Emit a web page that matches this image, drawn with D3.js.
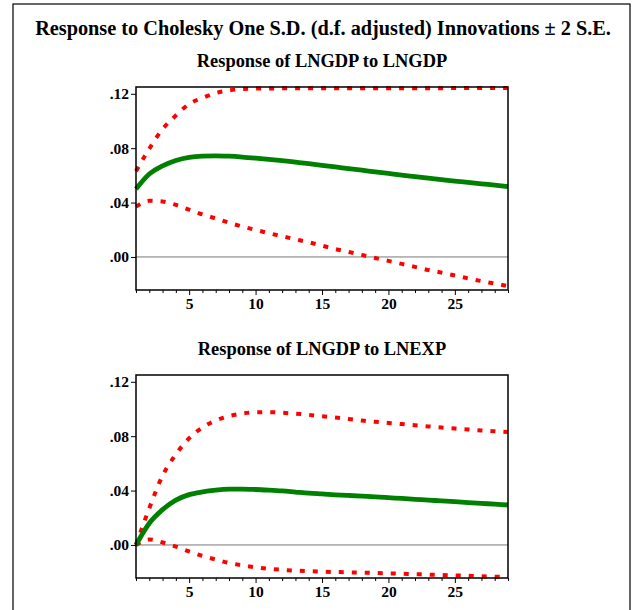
<!DOCTYPE html>
<html>
<head>
<meta charset="utf-8">
<script src="https://cdn.jsdelivr.net/npm/d3@7"></script>
<style>
  body { margin: 0; background: #fff; }
</style>
</head>
<body>
<div id="chart"></div>
<script>
const width = 632;
const height = 610;
const serif = "'Liberation Serif', 'Times New Roman', serif";

const periods = d3.range(1, 30);
const yTicks = [0, 0.04, 0.08, 0.12];
const xTicks = [5, 10, 15, 20, 25];

// Response of LNGDP to LNGDP
const gdpResp = [0.050, 0.061, 0.067, 0.0710, 0.0733, 0.0742, 0.0744, 0.0741, 0.0735, 0.0727,
  0.0718, 0.0708, 0.0697, 0.0686, 0.0674, 0.0662, 0.0650, 0.0638, 0.0626, 0.0614,
  0.0602, 0.0591, 0.0580, 0.0569, 0.0558, 0.0548, 0.0538, 0.0528, 0.0518];
const gdpUpper = [0.063, 0.0796, 0.094, 0.104, 0.1125, 0.117, 0.1205, 0.1225, 0.1235, 0.1238,
  0.1239, 0.1240, 0.1240, 0.1240, 0.1240, 0.1240, 0.1240, 0.1240, 0.1241, 0.1241,
  0.1241, 0.1241, 0.1241, 0.1241, 0.1242, 0.1242, 0.1242, 0.1242, 0.1242];
const gdpLower = [0.037, 0.0413, 0.0408, 0.0383, 0.0348, 0.0313, 0.0283, 0.0252, 0.0224, 0.0199,
  0.0175, 0.0152, 0.0130, 0.0108, 0.0083, 0.0058, 0.0037, 0.0015, -0.0008, -0.0029,
  -0.0051, -0.0073, -0.0096, -0.0115, -0.0136, -0.0158, -0.0177, -0.0196, -0.0215];

// Response of LNGDP to LNEXP
const expResp = [0.0, 0.016, 0.026, 0.033, 0.037, 0.039, 0.0403, 0.041, 0.0411, 0.0408,
  0.0403, 0.0397, 0.0389, 0.0381, 0.0375, 0.0369, 0.0364, 0.0359, 0.0354, 0.0348,
  0.0342, 0.0336, 0.0330, 0.0324, 0.0318, 0.0312, 0.0306, 0.0300, 0.0294];
const expUpper = [0.0, 0.027, 0.051, 0.0667, 0.0785, 0.0864, 0.0915, 0.0948, 0.0967, 0.0976,
  0.0977, 0.0972, 0.0966, 0.0957, 0.0947, 0.0938, 0.0927, 0.0915, 0.0906, 0.0897,
  0.0889, 0.0880, 0.0872, 0.0864, 0.0856, 0.0849, 0.0842, 0.0836, 0.0830];
const expLower = [0.0, 0.004, 0.0018, -0.0012, -0.0048, -0.008, -0.0107, -0.0132, -0.015, -0.0164,
  -0.0175, -0.0183, -0.0189, -0.0193, -0.0196, -0.0199, -0.0201, -0.0204, -0.0206, -0.0209,
  -0.0212, -0.0215, -0.0218, -0.0221, -0.0224, -0.0227, -0.0230, -0.0233, -0.0237];

const panels = [
  { title: "Response of LNGDP to LNGDP", resp: gdpResp, upper: gdpUpper, lower: gdpLower, top: 87 },
  { title: "Response of LNGDP to LNEXP", resp: expResp, upper: expUpper, lower: expLower, top: 375 }
];

const svg = d3.select("#chart")
  .append("svg")
  .attr("width", width)
  .attr("height", height);

// outer frame
svg.append("rect")
  .attr("x", 13).attr("y", 4)
  .attr("width", 617).attr("height", 640)
  .attr("fill", "none")
  .attr("stroke", "#000")
  .attr("stroke-width", 1.2);

svg.append("text")
  .attr("x", 323).attr("y", 35)
  .attr("text-anchor", "middle")
  .attr("font-family", serif)
  .attr("font-weight", "bold")
  .style("font-size", "20.3px")
  .text("Response to Cholesky One S.D. (d.f. adjusted) Innovations \u00b1 2 S.E.");

const plotLeft = 136, plotRight = 508, plotH = 203;

const x = d3.scaleLinear().domain([1, 29]).range([plotLeft, plotRight]);

panels.forEach(p => {
  const y = d3.scaleLinear().domain([-0.0243, 0.125]).range([p.top + plotH, p.top]);
  const g = svg.append("g");

  g.append("text")
    .attr("x", 322).attr("y", p.top - 20)
    .attr("text-anchor", "middle")
    .attr("font-family", serif)
    .attr("font-weight", "bold")
    .style("font-size", "18.4px")
    .text(p.title);

  // zero line
  g.append("line")
    .attr("x1", plotLeft).attr("x2", plotRight)
    .attr("y1", y(0)).attr("y2", y(0))
    .attr("stroke", "#777")
    .attr("stroke-width", 1);

  const line = d3.line()
    .x((d, i) => x(periods[i]))
    .y(d => y(d))
    .curve(d3.curveMonotoneX);

  [p.upper, p.lower].forEach(band => {
    g.append("path")
      .datum(band)
      .attr("d", line)
      .attr("fill", "none")
      .attr("stroke", "#ff0000")
      .attr("stroke-width", 4)
      .attr("stroke-dasharray", "5,8");
  });

  g.append("path")
    .datum(p.resp)
    .attr("d", line)
    .attr("fill", "none")
    .attr("stroke", "#008000")
    .attr("stroke-width", 4.8);

  // y axis
  const yAxis = d3.axisLeft(y)
    .tickValues(yTicks)
    .tickSize(5)
    .tickFormat(d => d3.format(".2f")(d).replace(/^0/, ""));
  g.append("g")
    .attr("transform", `translate(${plotLeft},0)`)
    .call(yAxis)
    .call(a => a.select(".domain").remove())
    .call(a => a.selectAll("line").attr("stroke", "#000"))
    .call(a => a.selectAll("text")
      .attr("font-family", serif).attr("font-weight", "bold")
      .style("font-size", "15.5px").attr("x", -7));

  // minor x ticks
  const xMinor = d3.axisBottom(x)
    .tickValues(periods.filter(d => d % 5 !== 0))
    .tickSize(3)
    .tickFormat("");
  g.append("g")
    .attr("transform", `translate(0,${p.top + plotH})`)
    .call(xMinor)
    .call(a => a.select(".domain").remove())
    .call(a => a.selectAll("line").attr("stroke", "#000"));

  const xAxis = d3.axisBottom(x)
    .tickValues(xTicks)
    .tickSize(5)
    .tickPadding(3);
  g.append("g")
    .attr("transform", `translate(0,${p.top + plotH})`)
    .call(xAxis)
    .call(a => a.select(".domain").remove())
    .call(a => a.selectAll("line").attr("stroke", "#000"))
    .call(a => a.selectAll("text")
      .attr("font-family", serif).attr("font-weight", "bold")
      .style("font-size", "15.5px"));

  // frame
  g.append("rect")
    .attr("x", plotLeft).attr("y", p.top)
    .attr("width", plotRight - plotLeft).attr("height", plotH)
    .attr("fill", "none")
    .attr("stroke", "#000")
    .attr("stroke-width", 1.5);
});
</script>
</body>
</html>
